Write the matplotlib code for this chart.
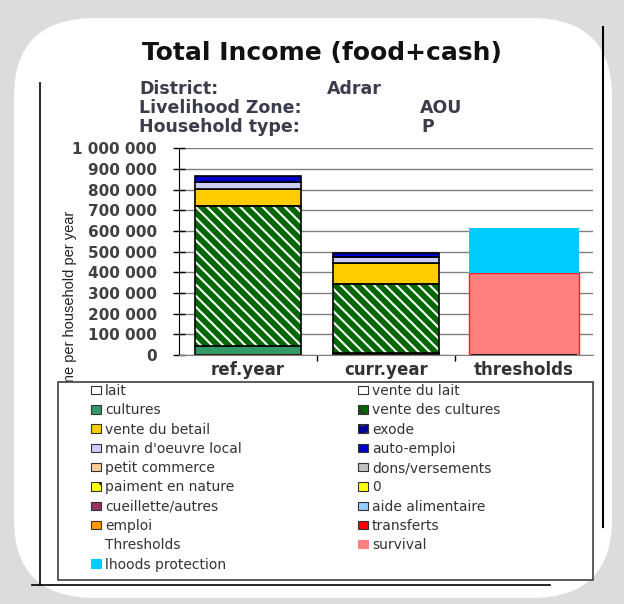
import matplotlib.pyplot as plt
from matplotlib.patches import Patch, Rectangle, FancyBboxPatch
from matplotlib.lines import Line2D
import numpy as np

# data
categories = ['ref.year', 'curr.year', 'thresholds']
cultures = [42000, 8000, 0]
vente_cultures = [680000, 335000, 0]
vente_betail = [81000, 102000, 0]
main_oeuvre = [37000, 29000, 0]
auto_emploi = [29000, 18000, 0]
survival = [0, 0, 397000]
lhoods_protection = [0, 0, 218000]

y_ticks = np.arange(0, 1000001, 100000)

W, H = 624, 604
def fx(x):
    return x / W
def fy(y):
    return 1 - y / H

plt.rcParams['font.family'] = ['DejaVu Sans']
plt.rcParams['hatch.linewidth'] = 1.5

fig = plt.figure(figsize=(6.24, 6.04), dpi=100)
fig.patch.set_facecolor('#dcdcdc')

# white rounded card + frame lines from the screenshot
card = FancyBboxPatch((fx(14), fy(598)), fx(598), 1 - (18 + 6) / H,
                      boxstyle='round,pad=0,rounding_size=0.13',
                      transform=fig.transFigure, facecolor='white',
                      edgecolor='none', zorder=-10)
fig.patches.append(card)
fig.add_artist(Line2D([fx(40), fx(40)], [fy(83), fy(585)], color='black', lw=1.2))
fig.add_artist(Line2D([fx(32), fx(550)], [fy(585), fy(585)], color='black', lw=1.2))
fig.add_artist(Line2D([fx(603), fx(603)], [fy(27), fy(527)], color='black', lw=1.5))

# titles
fig.text(fx(322), fy(53), 'Total Income (food+cash)', ha='center', va='center',
         fontsize=18, fontweight='bold', color='#111111')
sub_col = '#3c3c4c'
sub_fs = 12.5
fig.text(fx(139), fy(89), 'District:', fontsize=sub_fs, fontweight='bold', color=sub_col, va='center')
fig.text(fx(327), fy(89), 'Adrar', fontsize=sub_fs, fontweight='bold', color=sub_col, va='center')
fig.text(fx(139), fy(108), 'Livelihood Zone:', fontsize=sub_fs, fontweight='bold', color=sub_col, va='center')
fig.text(fx(420), fy(108), 'AOU', fontsize=sub_fs, fontweight='bold', color=sub_col, va='center')
fig.text(fx(139), fy(127), 'Household type:', fontsize=sub_fs, fontweight='bold', color=sub_col, va='center')
fig.text(fx(421), fy(127), 'P', fontsize=sub_fs, fontweight='bold', color=sub_col, va='center')

ax = fig.add_axes([fx(179), fy(355), (593 - 179) / W, (355 - 148.5) / H])
ax.set_facecolor('none')
x = np.arange(len(categories))
width = 0.77

segments = [
    (cultures, '#339966', None),
    (vente_cultures, '#006600', 'hatch'),
    (vente_betail, '#FFCC00', None),
    (main_oeuvre, '#CCCCFF', None),
    (auto_emploi, '#0000CC', None),
]
bottom = np.zeros(len(categories))
for vals, col, kind in segments:
    vals = np.array(vals, dtype=float)
    if kind == 'hatch':
        ax.bar(x, vals, width, bottom=bottom, color=col, hatch='\\\\\\',
               edgecolor='white', linewidth=0, zorder=3)
        ax.bar(x, vals, width, bottom=bottom, fill=False, edgecolor='black',
               linewidth=1.2, zorder=4)
    else:
        ax.bar(x, vals, width, bottom=bottom, color=col, edgecolor='black',
               linewidth=1.2, zorder=3)
    bottom += vals

ax.bar(x, survival, 0.8, color='#FF8080', edgecolor='#FF2020', linewidth=1.0, zorder=3)
ax.bar(x, lhoods_protection, 0.8, bottom=survival, color='#00CCFF',
       edgecolor='none', zorder=3)

ax.set_xlim(-0.5, 2.5)
ax.set_ylim(0, 1000000)
ax.set_yticks(y_ticks)
ax.set_yticklabels([f'{int(v):,}'.replace(',', ' ') for v in y_ticks],
                   fontsize=11, fontweight='bold', color='#404040')
ax.tick_params(axis='y', direction='inout', length=8, width=1, pad=12)
ax.set_xticks(x)
ax.set_xticklabels(categories, fontsize=12, fontweight='bold', color='#333333')
ax.tick_params(axis='x', length=0, pad=4)
ax.set_xticks([0.5, 1.5], minor=True)
ax.tick_params(axis='x', which='minor', direction='out', length=4, width=1)
ax.yaxis.grid(True, color='#808080', linewidth=1.0, zorder=0)
ax.set_axisbelow(True)
for s in ['top', 'right']:
    ax.spines[s].set_visible(False)
ax.spines['left'].set_color('black')
ax.spines['bottom'].set_color('#808080')

fig.text(fx(70), fy(312), 'Income per household per year', rotation=90,
         ha='center', va='center', fontsize=10.5, family='Liberation Sans',
         color='#222222', zorder=2)

# legend box
fig.add_artist(Rectangle((fx(58), fy(580)), (593 - 58) / W, (580 - 382) / H,
                         transform=fig.transFigure, facecolor='white',
                         edgecolor='#404040', lw=1.2, zorder=4))

def sq(col, hatch=None, ec='#333333'):
    return Patch(facecolor=col, edgecolor=ec, hatch=hatch, linewidth=0.8)

left_items = [
    (sq('white'), 'lait'),
    (sq('#339966'), 'cultures'),
    (sq('#FFCC00'), 'vente du betail'),
    (sq('#CCCCFF'), "main d'oeuvre local"),
    (sq('#FFCC99'), 'petit commerce'),
    (sq('#FFFF00', '\\\\'), 'paiment en nature'),
    (sq('#993366'), 'cueillette/autres'),
    (sq('#FF9900'), 'emploi'),
    (Patch(facecolor='none', edgecolor='none'), 'Thresholds'),
    (sq('#00CCFF', ec='#00CCFF'), 'lhoods protection'),
]
right_items = [
    (sq('white'), 'vente du lait'),
    (sq('#006600', '\\\\'), 'vente des cultures'),
    (sq('#000099', '..'), 'exode'),
    (sq('#0000CC'), 'auto-emploi'),
    (sq('#C0C0C0'), 'dons/versements'),
    (sq('#FFFF00'), '0'),
    (sq('#99CCFF'), 'aide alimentaire'),
    (sq('#FF0000'), 'transferts'),
    (sq('#FF8080', ec='#FF8080'), 'survival'),
]

leg_kw = dict(frameon=False, loc='upper left', fontsize=10, labelspacing=0.38,
              handlelength=0.7, handleheight=0.55, handletextpad=0.3,
              borderpad=0, borderaxespad=0, labelcolor='#333333')
for items, xpos in [(left_items, 91), (right_items, 358)]:
    lg = fig.legend([h for h, _ in items], [t for _, t in items],
                    bbox_to_anchor=(fx(xpos), fy(384)), **leg_kw)
    lg.set_zorder(5)

fig.savefig('out.png', dpi=100, facecolor=fig.get_facecolor())
